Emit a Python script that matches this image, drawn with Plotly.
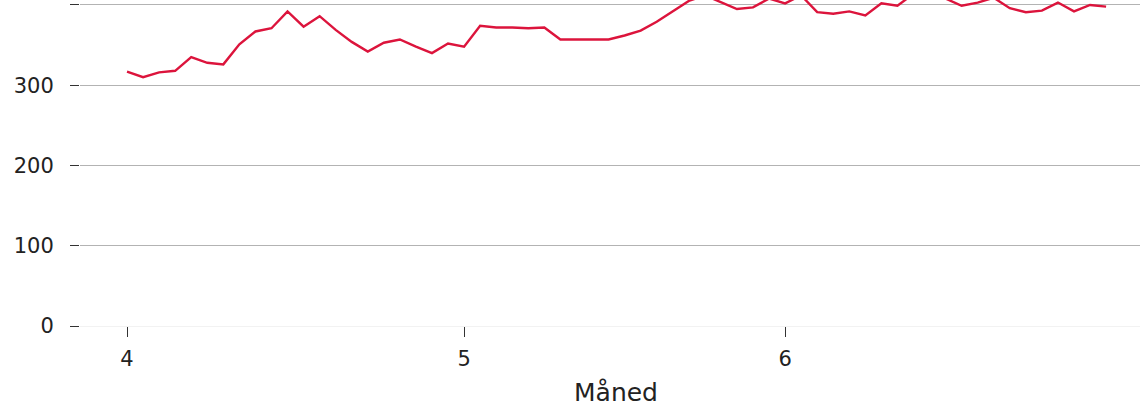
import plotly.graph_objects as go

# Observation index (one point per observation period)
obs_index = list(range(62))
values = [
    317, 310, 316, 318, 335, 328, 326, 351, 367, 371,
    392, 373, 386, 369, 354, 342, 353, 357, 348, 340,
    352, 348, 374, 372, 372, 371, 372, 357, 357, 357,
    357, 362, 368, 379, 392, 405, 412, 403, 395, 397,
    408, 402, 412, 391, 389, 392, 387, 402, 399, 414,
    418, 408, 399, 403, 409, 396, 391, 393, 403, 392,
    400, 398,
]
month_tick_pos = [0, 21, 41]
month_tick_labels = ["4", "5", "6"]
y_ticks = [0, 100, 200, 300, 400]

fig = go.Figure()
fig.add_trace(go.Scatter(
    x=obs_index, y=values, mode="lines",
    line=dict(color="#DC143C", width=2.4),
    showlegend=False, hoverinfo="skip",
))

font = dict(family="DejaVu Sans", size=21, color="#222222")

fig.update_layout(
    width=1152, height=407,
    margin=dict(l=80, r=0, t=0, b=81, pad=0, autoexpand=False),
    paper_bgcolor="white", plot_bgcolor="white",
    font=font,
    xaxis=dict(
        range=[-2.93, 63.86], automargin=False,
        tickmode="array", tickvals=month_tick_pos, ticktext=month_tick_labels,
        ticks="outside", ticklen=10, tickwidth=1, tickcolor="#333333",
        showgrid=False, zeroline=False,
        showline=True, linecolor="#f2f2f2", linewidth=1,
        ticklabelstandoff=4,
        title=dict(text="Måned", font=dict(family="DejaVu Sans", size=25, color="#222222"), standoff=17),
    ),
    yaxis=dict(
        range=[0, 406.2], automargin=False,
        tickmode="array", tickvals=y_ticks,
        ticks="outside", ticklen=9, tickwidth=1.3, tickcolor="#333333",
        showgrid=True, gridcolor="#b3b3b3", gridwidth=1,
        zeroline=False, showline=False,
        ticklabelstandoff=12,
    ),
)

fig.write_html(
    "out.html",
    config={"displayModeBar": False},
    post_script="document.body.style.margin='0';document.body.style.overflow='hidden';",
)
